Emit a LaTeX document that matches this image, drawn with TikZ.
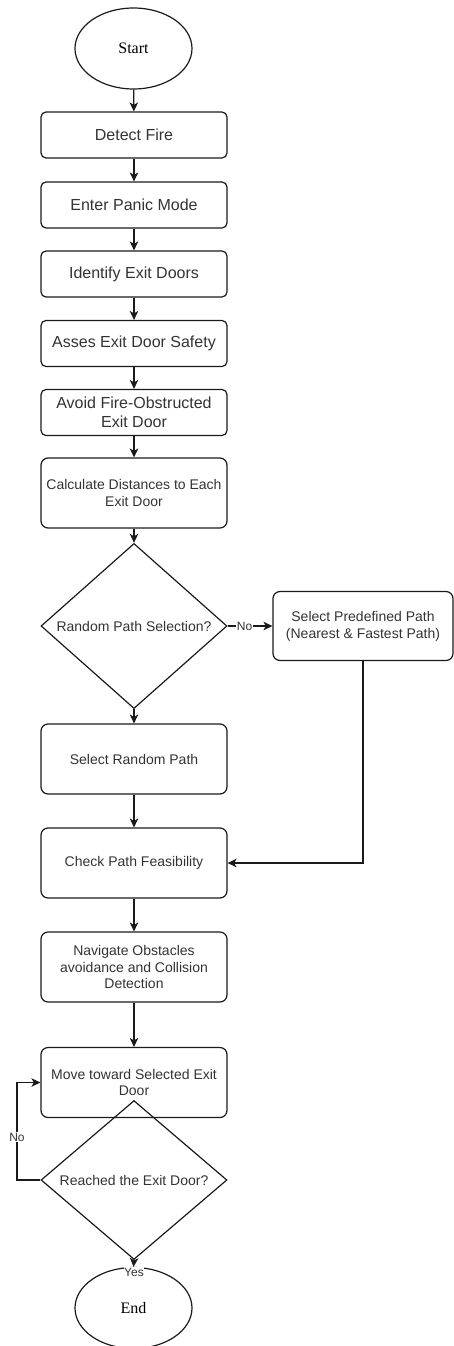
\documentclass[tikz,border=0pt]{standalone}
\usepackage{fontspec}
\setmainfont{Liberation Sans}
\newfontfamily\serifface{Liberation Serif}
\usetikzlibrary{shapes.geometric,arrows.meta}
\definecolor{txt}{HTML}{333333}
\definecolor{ln}{HTML}{1A1A1A}
\begin{document}
\begin{tikzpicture}[x=1pt,y=-1pt,
  box/.style={draw=ln, line width=1.2pt, rounded corners=5pt, minimum width=186pt, minimum height=46pt,
    align=center, inner sep=0pt, text=txt, font=\fontsize{16}{19.2}\selectfont},
  tall/.style={box, minimum height=70pt, rounded corners=7pt, font=\fontsize{14}{16.8}\selectfont},
  term/.style={draw=ln, line width=1.2pt, ellipse, minimum width=117pt, minimum height=81pt, inner sep=0pt,
    text=black, font=\serifface\fontsize{16}{19.2}\selectfont},
  dec/.style={draw=ln, line width=1.2pt, diamond, minimum width=186pt, minimum height=126pt, inner sep=0pt,
    text=txt, font=\fontsize{14}{16.8}\selectfont},
  arr/.style={draw=ln, line width=1.2pt, -{Stealth[length=9pt,width=8.5pt,inset=2.5pt]}},
  lbl/.style={fill=white, inner sep=1pt, text=txt, font=\fontsize{12}{14}\selectfont}]
\useasboundingbox (0,0) rectangle (454,1346);

\node[term] (start) at (133.5,48.5) {Start};
\node[box] (detect) at (134,135) {Detect Fire};
\node[box] (panic) at (134,205) {Enter Panic Mode};
\node[box] (ident) at (134,274) {Identify Exit Doors};
\node[box] (asses) at (134,343.5) {Asses Exit Door Safety};
\node[box] (avoid) at (134,412.5) {Avoid Fire-Obstructed\\Exit Door};
\node[tall] (calc) at (134,493) {Calculate Distances to Each\\Exit Door};
\node[dec] (d1) at (134,626) {Random Path Selection?};
\node[tall, minimum width=180pt, minimum height=69pt] (pre) at (363,626) {Select Predefined Path\\(Nearest \& Fastest Path)};
\node[tall] (rand) at (134,759) {Select Random Path};
\node[tall] (check) at (134,863) {Check Path Feasibility};
\node[tall] (nav) at (134,967) {Navigate Obstacles\\avoidance and Collision\\Detection};
\node[tall] (move) at (134,1082.5) {Move toward Selected Exit\\Door};
\node[dec] (d2) at (134,1180) {Reached the Exit Door?};
\node[term] (end) at (133.5,1308) {End};

\draw[arr] (start) -- (detect);
\draw[arr] (detect) -- (panic);
\draw[arr] (panic) -- (ident);
\draw[arr] (ident) -- (asses);
\draw[arr] (asses) -- (avoid);
\draw[arr] (avoid) -- (calc);
\draw[arr] (calc) -- (d1);
\draw[arr] (d1.east) -- (pre.west) node[lbl, pos=0.38] {No};
\draw[arr] (d1) -- (rand);
\draw[arr] (pre.south) |- (check.east);
\draw[arr] (rand) -- (check);
\draw[arr] (check) -- (nav);
\draw[arr] (nav) -- (move);
\draw[arr] (d2.west) -- ++(-23.4,0) |- (move.west) node[lbl, pos=0.22] {No};
\draw[arr] (d2.south) -- (end.north);
\node[lbl, inner sep=0.5pt] (yes) at (134,1272) {Yes};
\end{tikzpicture}
\end{document}
